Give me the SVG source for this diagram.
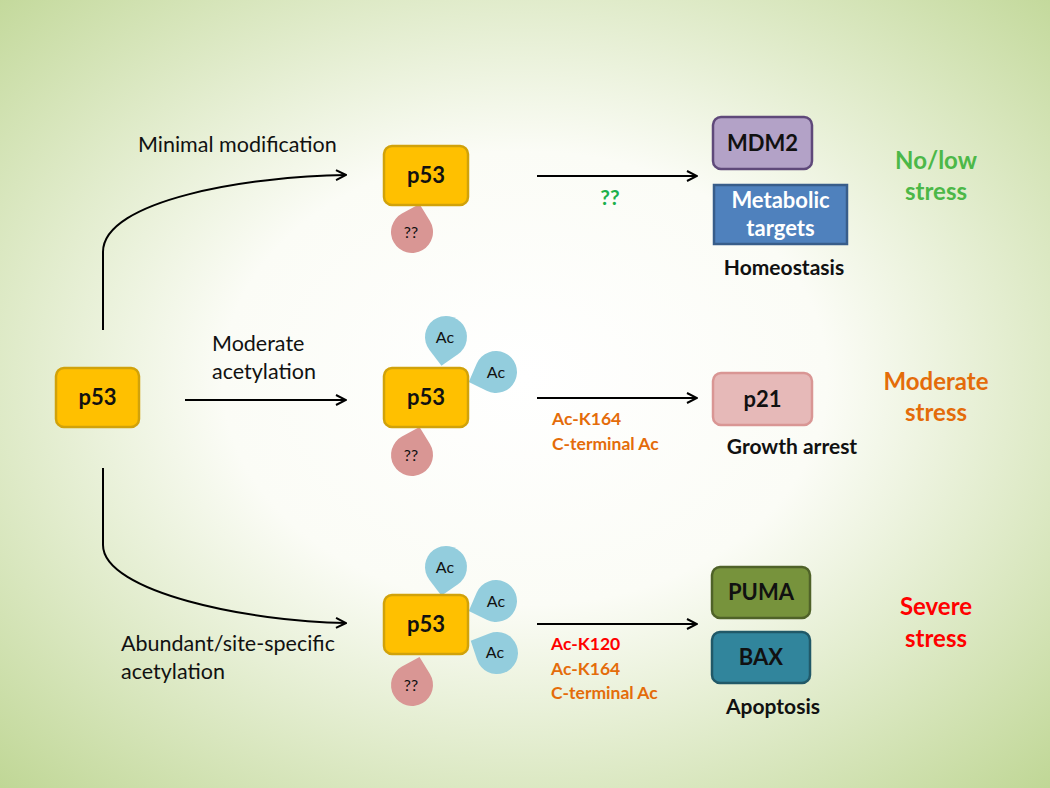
<svg xmlns="http://www.w3.org/2000/svg" xmlns:xlink="http://www.w3.org/1999/xlink" width="1050" height="788" viewBox="0 0 1050 788">
<style>
.t{font-family:Lato,"Open Sans","Liberation Sans",sans-serif;}
.lbl{font-size:21.5px;fill:#111;}
.b{font-weight:bold;}
.p53{fill:#FFC000;stroke:#D1A20A;stroke-width:2.5;}
.pt{font-size:22px;font-weight:bold;fill:#111;text-anchor:middle;}
.ac{fill:#93CDDD;}
.qq{fill:#D99694;}
.dt{font-size:16px;fill:#111;text-anchor:middle;}
.con{fill:none;stroke:#000;stroke-width:2;}
.mod{font-size:17.5px;font-weight:bold;}
.st{font-size:24px;font-weight:bold;text-anchor:middle;}
.res{font-size:21px;font-weight:bold;fill:#111;text-anchor:middle;}
</style>
<defs>
<radialGradient id="bg" cx="0.5" cy="0.48" r="0.72">
<stop offset="0" stop-color="#ffffff"/>
<stop offset="0.4" stop-color="#fbfcf6"/>
<stop offset="1" stop-color="#c0d796"/>
</radialGradient>
<path id="drop" d="M29,0 L15.2,14.5 A21,21 0 1 1 15.2,-14.5 Z"/>
<marker id="arr" viewBox="0 0 12 12" refX="11" refY="6" markerWidth="12" markerHeight="12" markerUnits="userSpaceOnUse" orient="auto">
<path d="M1,1 L11,6 L1,11" fill="none" stroke="#000" stroke-width="2"/>
</marker>
</defs>
<rect width="1050" height="788" fill="url(#bg)"/>

<g id="connectors">
<path class="con" d="M103,330 L103,252 C103,200 250,176 346,175" marker-end="url(#arr)"/>
<path class="con" d="M185,400 L346,400" marker-end="url(#arr)"/>
<path class="con" d="M103,468 L103,545 C103,592 250,622 346,623" marker-end="url(#arr)"/>
<path class="con" d="M537,176 L697,176" marker-end="url(#arr)"/>
<path class="con" d="M537,398 L697,398" marker-end="url(#arr)"/>
<path class="con" d="M537,624 L697,624" marker-end="url(#arr)"/>
</g>

<g id="labels" class="t">
<text class="lbl" x="138" y="152">Minimal modification</text>
<text class="lbl" x="212" y="351">Moderate</text>
<text class="lbl" x="212" y="379">acetylation</text>
<text class="lbl" x="121" y="651">Abundant/site-specific</text>
<text class="lbl" x="121" y="679">acetylation</text>
<text class="mod" x="610" y="205" fill="#1DB04C" text-anchor="middle" style="font-size:21px">??</text>
<text class="mod" x="552" y="425" fill="#E46C0A">Ac-K164</text>
<text class="mod" x="552" y="450" fill="#E46C0A">C-terminal Ac</text>
<text class="mod" x="551" y="650" fill="#FF0000">Ac-K120</text>
<text class="mod" x="551" y="675" fill="#E46C0A">Ac-K164</text>
<text class="mod" x="551" y="699" fill="#E46C0A">C-terminal Ac</text>
</g>

<g id="p53-source" class="t">
<rect class="p53" x="56" y="368" width="83" height="59" rx="8"/>
<text class="pt" x="97.5" y="405">p53</text>
</g>

<g id="p53-minimal" class="t">
<use href="#drop" class="qq" transform="translate(412,232) rotate(-75)"/>
<rect class="p53" x="384" y="146" width="84" height="59" rx="8"/>
<text class="pt" x="426" y="183">p53</text>
<text class="dt" x="411" y="238">??</text>
</g>

<g id="p53-moderate" class="t">
<use href="#drop" class="ac" transform="translate(446,337) rotate(99)"/>
<use href="#drop" class="ac" transform="translate(496,372) rotate(160)"/>
<use href="#drop" class="qq" transform="translate(412,455) rotate(-75)"/>
<rect class="p53" x="384" y="368" width="84" height="59" rx="8"/>
<text class="pt" x="426" y="405">p53</text>
<text class="dt" x="445" y="343">Ac</text>
<text class="dt" x="496" y="378">Ac</text>
<text class="dt" x="411" y="461">??</text>
</g>

<g id="p53-abundant" class="t">
<use href="#drop" class="ac" transform="translate(446,567) rotate(99)"/>
<use href="#drop" class="ac" transform="translate(496,601) rotate(160)"/>
<use href="#drop" class="ac" transform="translate(497,653) rotate(-155)"/>
<use href="#drop" class="qq" transform="translate(412,685) rotate(-75)"/>
<rect class="p53" x="384" y="595" width="84" height="59" rx="8"/>
<text class="pt" x="426" y="632">p53</text>
<text class="dt" x="445" y="573">Ac</text>
<text class="dt" x="496" y="607">Ac</text>
<text class="dt" x="495" y="658">Ac</text>
<text class="dt" x="411" y="691">??</text>
</g>

<g id="mdm2" class="t">
<rect x="713" y="117" width="99" height="52" rx="8" fill="#B3A2C7" stroke="#5F497A" stroke-width="2.5"/>
<text class="pt" x="762.5" y="151">MDM2</text>
</g>
<g id="metabolic" class="t">
<rect x="714" y="185" width="133" height="59" fill="#4F81BD" stroke="#385D8A" stroke-width="2.5"/>
<text class="pt" x="780.5" y="208" style="fill:#fff" font-size="21">Metabolic</text>
<text class="pt" x="780.5" y="236" style="fill:#fff" font-size="21">targets</text>
</g>
<text class="t res" x="784" y="275">Homeostasis</text>

<g id="p21" class="t">
<rect x="713" y="373" width="99" height="52" rx="8" fill="#E6B9B8" stroke="#D99694" stroke-width="2.5"/>
<text class="pt" x="762.5" y="407">p21</text>
</g>
<text class="t res" x="792" y="454">Growth arrest</text>

<g id="puma" class="t">
<rect x="712" y="567" width="98" height="51" rx="8" fill="#77933C" stroke="#4F6228" stroke-width="2.5"/>
<text class="pt" x="761" y="600">PUMA</text>
</g>
<g id="bax" class="t">
<rect x="712" y="632" width="98" height="51" rx="8" fill="#31859C" stroke="#215968" stroke-width="2.5"/>
<text class="pt" x="761" y="665">BAX</text>
</g>
<text class="t res" x="773" y="714">Apoptosis</text>

<g id="stress" class="t">
<text class="st" x="936" y="169" fill="#4CB848">No/low</text>
<text class="st" x="936" y="200" fill="#4CB848">stress</text>
<text class="st" x="936" y="390" fill="#E46C0A">Moderate</text>
<text class="st" x="936" y="421" fill="#E46C0A">stress</text>
<text class="st" x="936" y="615" fill="#FF0000">Severe</text>
<text class="st" x="936" y="647" fill="#FF0000">stress</text>
</g>
</svg>
